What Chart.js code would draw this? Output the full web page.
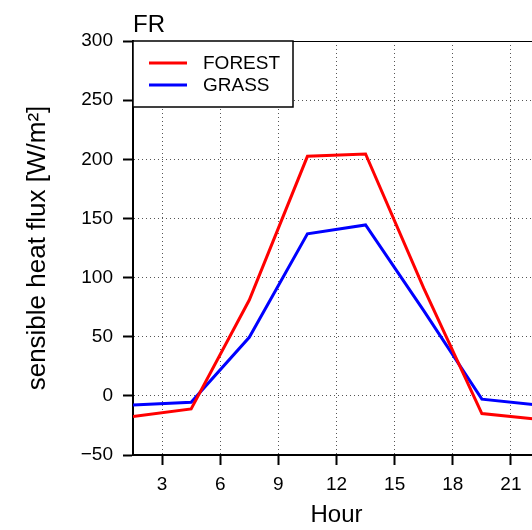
<!DOCTYPE html>
<html>
<head>
<meta charset="utf-8">
<script src="https://cdn.jsdelivr.net/npm/chart.js@4.4.0/dist/chart.umd.min.js"></script>
<style>
    body { margin: 0; overflow: hidden; background: #fff; }
</style>
</head>
<body>
<canvas id="fluxChart" width="560" height="530"></canvas>
<script>
// diurnal cycle, 3-hourly means
const hours = [1.5, 4.5, 7.5, 10.5, 13.5, 16.5, 19.5, 22.5];
const forest = [-17.5, -11, 81, 202.5, 204.5, 91, -15, -20];
const grass = [-7.8, -5.5, 49.5, 137, 144.5, 72, -2.8, -8];
const hourTicks = [3, 6, 9, 12, 15, 18, 21];
const fluxTicks = [-50, 0, 50, 100, 150, 200, 250, 300];

const FONT = 'Liberation Sans, Arial, Helvetica, sans-serif';

function toPoints(xs, ys) {
    let pts = [];
    for (let i in xs) {
        pts.push({ x: xs[i], y: ys[i] })
    }
    return pts;
}

// proper minus sign on negative ticks
function fmtTick(v) {
    return v < 0 ? '\u2212' + Math.abs(v) : String(v);
}

// top frame line, panel label and the boxed legend
const framePlugin = {
    id: 'frame',
    afterDraw(chart) {
        let ctx = chart.ctx;
        let area = chart.chartArea;
        ctx.save();
        ctx.strokeStyle = '#000';
        ctx.lineWidth = 1;
        ctx.beginPath();
        ctx.moveTo(area.left, area.top + 0.5);
        ctx.lineTo(area.right, area.top + 0.5);
        ctx.stroke();

        ctx.fillStyle = '#000';
        ctx.font = '24px ' + FONT;
        ctx.textBaseline = 'alphabetic';
        ctx.fillText('FR', area.left, 32);

        // legend
        let bx = area.left, by = area.top, bw = 160, bh = 66;
        ctx.fillStyle = '#fff';
        ctx.fillRect(bx, by, bw, bh);
        ctx.strokeStyle = '#000';
        ctx.lineWidth = 1.5;
        ctx.strokeRect(bx, by, bw, bh);
        ctx.font = '19px ' + FONT;
        ctx.textBaseline = 'middle';
        chart.data.datasets.forEach((ds, i) => {
            let y = by + 22 + i * 22;
            ctx.strokeStyle = ds.borderColor;
            ctx.lineWidth = 3;
            ctx.beginPath();
            ctx.moveTo(bx + 16, y);
            ctx.lineTo(bx + 54, y);
            ctx.stroke();
            ctx.fillStyle = '#000';
            ctx.fillText(ds.label, bx + 70, y + 1);
        });
        ctx.restore();
    }
};

let ctx = document.getElementById('fluxChart').getContext('2d');
let myChart = new Chart(ctx, {
    type: 'line',
    data: {
        datasets: [{
            label: 'FOREST',
            data: toPoints(hours, forest),
            borderColor: '#ff0000',
            borderWidth: 3,
            pointRadius: 0,
            fill: false
        }, {
            label: 'GRASS',
            data: toPoints(hours, grass),
            borderColor: '#0000ff',
            borderWidth: 3,
            pointRadius: 0,
            fill: false
        }]
    },
    options: {
        responsive: false,
        animation: false,
        layout: { padding: { top: 41, right: 20, left: 0, bottom: 0 } },
        plugins: {
            legend: { display: false },
            tooltip: { enabled: false }
        },
        scales: {
            x: {
                type: 'linear',
                min: 1.5,
                max: 22.5,
                afterBuildTicks: s => { s.ticks = hourTicks.map(v => ({ value: v })) },
                afterFit: s => { s.height = 75 },
                grid: {
                    color: '#555',
                    lineWidth: 1,
                    drawTicks: true,
                    tickLength: 10,
                    tickColor: '#000',
                    tickWidth: 2,
                    tickBorderDash: []
                },
                border: { display: true, color: '#000', width: 2, dash: [1, 3] },
                ticks: {
                    padding: 8,
                    color: '#000',
                    font: { family: FONT, size: 19 },
                    maxRotation: 0,
                    callback: v => fmtTick(v)
                },
                title: {
                    display: true,
                    text: 'Hour',
                    color: '#000',
                    font: { family: FONT, size: 24 },
                    padding: { top: 0, bottom: 0 }
                }
            },
            y: {
                min: -50,
                max: 300,
                afterBuildTicks: s => { s.ticks = fluxTicks.map(v => ({ value: v })) },
                afterFit: s => { s.width = 133 },
                grid: {
                    color: '#555',
                    lineWidth: 1,
                    drawTicks: true,
                    tickLength: 10,
                    tickColor: '#000',
                    tickWidth: 2,
                    tickBorderDash: []
                },
                border: { display: true, color: '#000', width: 2, dash: [1, 3] },
                ticks: {
                    padding: 10,
                    color: '#000',
                    font: { family: FONT, size: 19 },
                    callback: v => fmtTick(v)
                },
                title: {
                    display: true,
                    text: 'sensible heat flux [W/m²]',
                    color: '#000',
                    font: { family: FONT, size: 26 },
                    padding: { top: 22, bottom: 0 }
                }
            }
        }
    },
    plugins: [framePlugin]
});
</script>
</body>
</html>
